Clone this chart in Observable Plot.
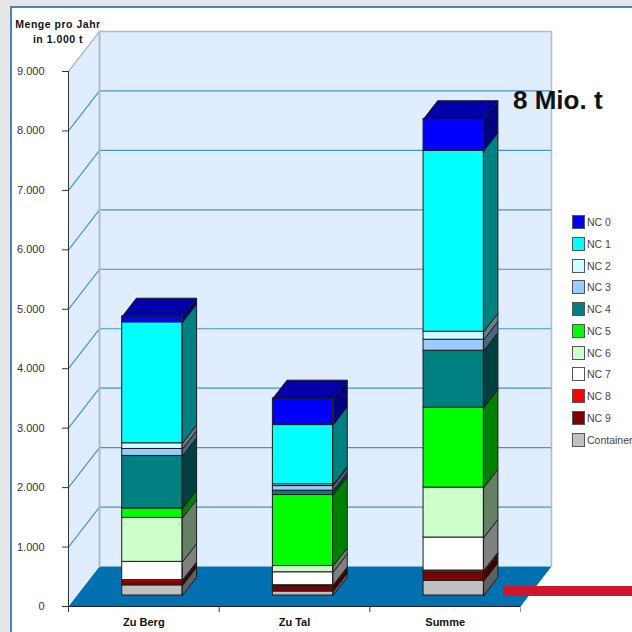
<!DOCTYPE html>
<html><head><meta charset="utf-8">
<script src="https://cdn.jsdelivr.net/npm/d3@7"></script>
<script src="https://cdn.jsdelivr.net/npm/@observablehq/plot@0.6"></script>
<style>
html,body{margin:0;padding:0;background:#e6e6e6;overflow:hidden}
#page{position:relative;width:632px;height:632px;overflow:hidden;font-family:"Liberation Sans",Arial,sans-serif}
#frame{position:absolute;left:10px;top:6px;width:800px;height:800px;background:#fff;border:2px solid #4f7fbd}
#chart{position:absolute;left:0;top:0}
#ytitle{position:absolute;left:4px;top:17px;width:108px;text-align:center;font-weight:bold;font-size:10.5px;line-height:14.5px;letter-spacing:.52px;color:#111}
#note{position:absolute;left:513px;top:85px;font-weight:bold;font-size:26px;line-height:30px;color:#111;white-space:nowrap}
#strip{position:absolute;left:503px;top:586px;width:129px;height:10px;background:#d0162c}
.lg{position:absolute;left:572px;font-size:10.5px;line-height:14px;color:#444;white-space:nowrap;padding-left:15px}
.lg i{position:absolute;left:0;top:0;width:11px;height:12px;border:1px solid #555}
</style></head>
<body><div id="page"><div id="frame"></div><div id="chart"></div>
<div id="ytitle">Menge pro Jahr<br>in 1.000 t</div>
<div id="strip"></div><div id="note">8 Mio. t</div><div id="legend"></div></div>
<script>
const categories = ["Zu Berg", "Zu Tal", "Summe"];
const seriesNames = ["Container","NC 9","NC 8","NC 7","NC 6","NC 5","NC 4","NC 3","NC 2","NC 1","NC 0"];
const seriesColors = ["#c0c0c0","#800000","#ff0000","#ffffff","#ccffcc","#00ff00","#008080","#99ccff","#ccffff","#00ffff","#0000ff"];
const zuBerg = [170,60,29,307,740,158,884,117,96,2034,100];
const zuTal  = [67,89,17,218,106,1193,74,77,29,997,449];
const summe  = [245,141,34,555,840,1345,958,185,134,3042,538];
const yTicks = [0,1000,2000,3000,4000,5000,6000,7000,8000,9000];

const table = [zuBerg, zuTal, summe];
// oblique projection: one unit of depth shifts right and up
const depthX = 31 / 150.67, depthY = 673;
const front = 0.275, back = 0.73, halfW = 0.2;
const X = (x, z) => x + z * depthX, Y = (v, z) => v + z * depthY;
const dark = (c, k) => { const r = d3.rgb(c); return d3.rgb(r.r * k, r.g * k, r.b * k).formatHex(); };

const rects = [], polys = [];
let id = 0;
const poly = (pts, fill) => { id++; pts.forEach(([x, y]) => polys.push({id, x, y, fill})); };
table.forEach((vals, i) => {
  let base = 0;
  const xl = i + 0.5 - halfW, xr = i + 0.5 + halfW;
  vals.forEach((v, s) => {
    const c = seriesColors[s], top = base + v;
    rects.push({x1: X(xl, front), x2: X(xr, front), y1: Y(base, front), y2: Y(top, front), fill: c});
    poly([[X(xr, front), Y(base, front)], [X(xr, back), Y(base, back)], [X(xr, back), Y(top, back)], [X(xr, front), Y(top, front)]], dark(c, 0.5));
    if (s === vals.length - 1)
      poly([[X(xl, front), Y(top, front)], [X(xl, back), Y(top, back)], [X(xr, back), Y(top, back)], [X(xr, front), Y(top, front)]], dark(c, 0.66));
    base = top;
  });
});

const wall = "#e0edfe", floor = "#0070ae", gridC = "#3f96c8", edge = "#b2bac4";
const walls = [
  {id: "back", x: X(0, 1), y: Y(0, 1)}, {id: "back", x: X(3, 1), y: Y(0, 1)}, {id: "back", x: X(3, 1), y: Y(9000, 1)}, {id: "back", x: X(0, 1), y: Y(9000, 1)},
  {id: "left", x: X(0, 0), y: Y(0, 0)}, {id: "left", x: X(0, 1), y: Y(0, 1)}, {id: "left", x: X(0, 1), y: Y(9000, 1)}, {id: "left", x: X(0, 0), y: Y(9000, 0)}
];
const floorPts = [{x: X(0, 0), y: 0}, {x: X(3, 0), y: 0}, {x: X(3, 1), y: Y(0, 1)}, {x: X(0, 1), y: Y(0, 1)}];
const grid = yTicks.slice(1, -1).flatMap(v => [
  {v, x: X(0, 0), y: Y(v, 0)}, {v, x: X(0, 1), y: Y(v, 1)}, {v, x: X(3, 1), y: Y(v, 1)}
]);
const fmt = d => d3.format(",")(d).replace(/,/g, ".");

const chart = Plot.plot({
  width: 632, height: 632,
  marginLeft: 68, marginRight: 81, marginTop: 31, marginBottom: 26,
  x: {type: "linear", domain: [0, 3 + depthX], label: null},
  y: {type: "linear", domain: [0, 9000 + depthY], label: null},
  color: {type: "identity"},
  style: {background: "transparent", fontFamily: "'Liberation Sans',Arial,sans-serif"},
  marks: [
    Plot.line(walls, {x: "x", y: "y", z: "id", fill: wall, stroke: "none", curve: "linear-closed"}),
    Plot.line(floorPts, {x: "x", y: "y", fill: floor, stroke: "none", curve: "linear-closed"}),
    Plot.line(grid, {x: "x", y: "y", z: "v", stroke: gridC, strokeWidth: 1.15}),
    Plot.line([{x: X(0, 0), y: Y(9000, 0)}, {x: X(0, 1), y: Y(9000, 1)}, {x: X(3, 1), y: Y(9000, 1)}, {x: X(3, 1), y: Y(0, 1)}], {x: "x", y: "y", stroke: edge, strokeWidth: 1.5}),
    Plot.line([{x: X(0, 1), y: Y(9000, 1)}, {x: X(0, 1), y: Y(0, 1)}], {x: "x", y: "y", stroke: edge, strokeWidth: 2}),
    Plot.rect(rects, {x1: "x1", x2: "x2", y1: "y1", y2: "y2", fill: "fill", stroke: "#1c1c1c", strokeWidth: 1, inset: 0}),
    Plot.line(polys, {x: "x", y: "y", z: "id", fill: "fill", stroke: "#1c1c1c", strokeWidth: 1, curve: "linear-closed"}),
    Plot.ruleX([0], {y1: 0, y2: 9000, stroke: "#333", strokeWidth: 1}),
    Plot.ruleY([0], {x1: 0, x2: 3, stroke: "#222", strokeWidth: 1.2}),
    Plot.axisY({ticks: yTicks, tickFormat: fmt, tickSize: 6, tickPadding: 18, fontSize: 11, color: "#333", label: null}),
    Plot.axisX({ticks: [0, 1, 2], tickFormat: () => "", tickSize: 6, color: "#333", label: null}),
    Plot.axisX({ticks: [3], tickFormat: () => "", tickSize: 6, color: "#999", label: null}),
    Plot.axisX({ticks: [0.5, 1.5, 2.5], tickFormat: d => categories[d - 0.5], tickSize: 0, tickPadding: 12, fontSize: 11, fontWeight: "bold", color: "#111", label: null, style: {letterSpacing: "0.5px"}})
  ]
});
document.getElementById("chart").append(chart);

const legend = document.getElementById("legend");
[...seriesNames].reverse().forEach((name, i) => {
  const s = seriesNames.indexOf(name);
  const d = document.createElement("div");
  d.className = "lg";
  d.style.top = (215 + i * 21.75) + "px";
  d.textContent = name;
  const sw = document.createElement("i");
  sw.style.background = seriesColors[s];
  d.prepend(sw);
  legend.append(d);
});
</script></body></html>
